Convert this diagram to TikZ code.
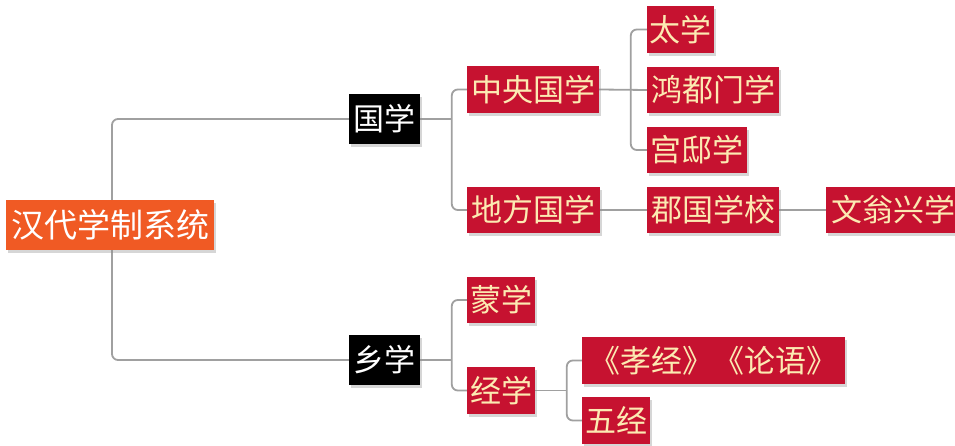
\documentclass[tikz,border=0pt]{standalone}
\usepackage{fontspec}
\setmainfont{Noto Sans CJK SC}
\usetikzlibrary{shadows,backgrounds}
\definecolor{redbox}{RGB}{198,18,48}
\definecolor{cream}{RGB}{252,234,178}
\definecolor{orangebox}{RGB}{240,90,36}
\definecolor{linegray}{RGB}{160,160,160}
\tikzset{
  box/.style={inner sep=0pt, anchor=center, align=center,
    drop shadow={shadow xshift=2pt, shadow yshift=-3pt, opacity=0.35, fill=black!45}},
  redb/.style={box, fill=redbox, text=cream, font=\fontsize{31}{31}\selectfont},
  blackb/.style={box, fill=black, text=white, font=\fontsize{31}{31}\selectfont},
  rootb/.style={box, fill=orangebox, text=white, font=\fontsize{33}{33}\selectfont},
  conn/.style={draw=linegray, line width=1.8pt, rounded corners=6pt}
}
\begin{document}
\begin{tikzpicture}[x=1pt,y=-1pt]
\useasboundingbox (0,0) rectangle (955,446);
\node[rootb, minimum width=208pt, minimum height=50pt] (root) at (110,225) {汉代学制系统};
\node[blackb, minimum width=71pt, minimum height=50pt] (guoxue) at (384.5,119) {国学};
\node[blackb, minimum width=71pt, minimum height=50pt] (xiangxue) at (384.5,360) {乡学};
\node[redb, minimum width=132pt, minimum height=47pt] (zhongyang) at (533,89.5) {中央国学};
\node[redb, minimum width=133pt, minimum height=46pt] (difang) at (533.5,210) {地方国学};
\node[redb, minimum width=132pt, minimum height=46pt] (junguo) at (713,210) {郡国学校};
\node[redb, minimum width=134pt, minimum height=46pt] (wenweng) at (893,210) {文翁兴学};
\node[redb, minimum width=67pt, minimum height=47pt] (taixue) at (680.5,29.5) {太学};
\node[redb, minimum width=132pt, minimum height=46pt] (hongdu) at (713,90) {鸿都门学};
\node[redb, minimum width=100pt, minimum height=46pt] (gongdi) at (697,150) {宫邸学};
\node[redb, minimum width=68pt, minimum height=46pt] (mengxue) at (501,300) {蒙学};
\node[redb, minimum width=68pt, minimum height=47pt] (jingxue) at (501,390.5) {经学};
\node[redb, minimum width=263pt, minimum height=47pt] (xiaojing) at (713.5,360.5) {《孝经》《论语》};
\node[redb, minimum width=68pt, minimum height=47pt] (wujing) at (616,420.5) {五经};
\begin{scope}[on background layer]
\fill[white] (0,0) rectangle (955,446);
\draw[conn] (guoxue.west) -| ([xshift=2pt]root.center) |- (xiangxue.west);
\coordinate (b1) at ([xshift=-15pt]zhongyang.west);
\draw[conn] (zhongyang.west) -- (b1) |- (difang.west);
\draw[conn] (guoxue.east) -- (guoxue.east -| b1);
\coordinate (b2) at ([xshift=-16pt]taixue.west);
\draw[conn] (taixue.west) -- (b2) |- (gongdi.west);
\draw[conn] (zhongyang.east) -- (hongdu.west);
\draw[conn] (difang.east) -- (junguo.west);
\draw[conn] (junguo.east) -- (wenweng.west);
\coordinate (b3) at ([xshift=-15pt]mengxue.west);
\draw[conn] (mengxue.west) -- (b3) |- (jingxue.west);
\draw[conn] (xiangxue.east) -- (xiangxue.east -| b3);
\coordinate (b4) at ([xshift=-15pt]xiaojing.west);
\draw[conn] (xiaojing.west) -- (b4) |- (wujing.west);
\draw[conn] (jingxue.east) -- (jingxue.east -| b4);
\end{scope}
\end{tikzpicture}
\end{document}
